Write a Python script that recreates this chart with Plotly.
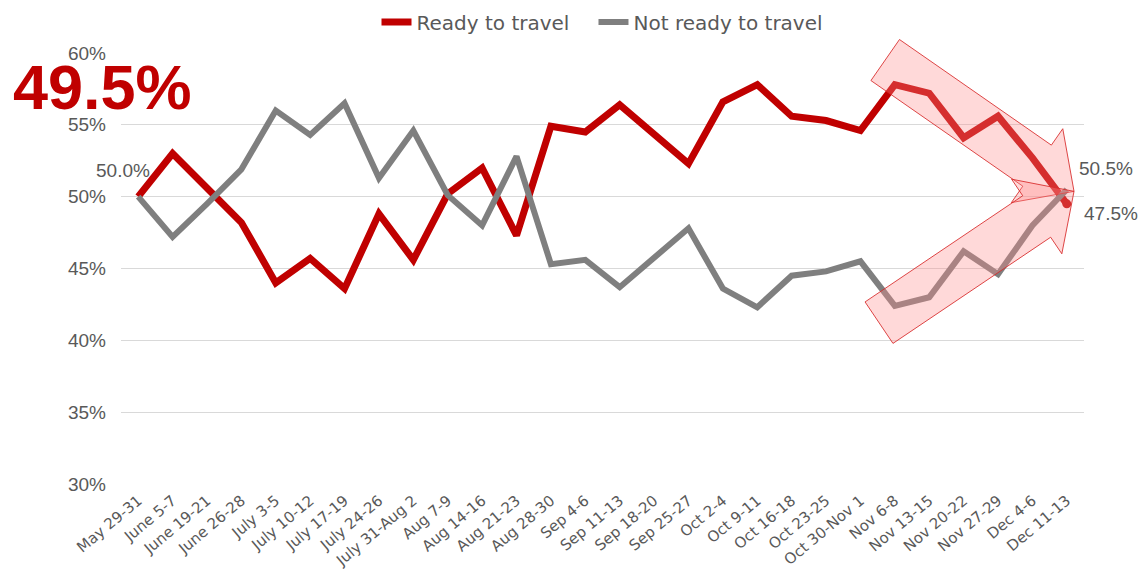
import math
import plotly.graph_objects as go

# Survey waves
weeks = ["May 29-31", "June 5-7", "June 19-21", "June 26-28", "July 3-5", "July 10-12",
         "July 17-19", "July 24-26", "July 31-Aug 2", "Aug 7-9", "Aug 14-16", "Aug 21-23",
         "Aug 28-30", "Sep 4-6", "Sep 11-13", "Sep 18-20", "Sep 25-27", "Oct 2-4",
         "Oct 9-11", "Oct 16-18", "Oct 23-25", "Oct 30-Nov 1", "Nov 6-8", "Nov 13-15",
         "Nov 20-22", "Nov 27-29", "Dec 4-6", "Dec 11-13"]

# Share of respondents (%)
ready = [50.0, 53.0, 50.6, 48.2, 44.0, 45.7, 43.6, 48.8, 45.6, 50.2, 52.0, 47.3,
         54.9, 54.5, 56.4, 54.3, 52.3, 56.6, 57.8, 55.6, 55.3, 54.6, 57.8, 57.2,
         54.1, 55.6, 52.7, 49.5]
not_ready = [50.0, 47.2, 49.5, 51.9, 56.0, 54.3, 56.5, 51.3, 54.6, 50.1, 48.0, 52.8,
             45.3, 45.6, 43.7, 45.8, 47.8, 43.6, 42.3, 44.5, 44.8, 45.5, 42.4, 43.0,
             46.2, 44.6, 48.0, 50.5]

y_ticks = [30, 35, 40, 45, 50, 55, 60]
headline = "49.5%"
end_callout = "47.5%"

RED = "#C00000"
GRAY = "#7F7F7F"
TXT = "#595959"

W, H = 1143, 576
M = dict(l=121, r=59, t=53, b=92, autoexpand=False)
x_range = [-0.5, 27.5]
y_range = [30, 60]
plot_w = W - M["l"] - M["r"]
plot_h = H - M["t"] - M["b"]
# pixels per data unit, used to keep the callout arrows' proportions
sx = plot_w / (x_range[1] - x_range[0])
sy = plot_h / (y_range[1] - y_range[0])

NBSP = "\u00a0"
fig = go.Figure()
fig.add_trace(go.Scatter(x=weeks, y=ready, mode="lines", name="Ready to travel" + NBSP * 3,
                         line=dict(color=RED, width=7)))
fig.add_trace(go.Scatter(x=weeks, y=not_ready, mode="lines", name="Not ready to travel",
                         line=dict(color=GRAY, width=6)))


def block_arrow(tail, tip, half=25, head_half=45, head_len=45):
    """Closed SVG path (paper coords) of a block arrow, tail centre and tip in data units."""
    tx, ty = tail[0] * sx, tail[1] * sy
    px, py = tip[0] * sx, tip[1] * sy
    dx, dy = px - tx, py - ty
    L = math.hypot(dx, dy)
    ux, uy = dx / L, dy / L
    nx, ny = -uy, ux
    bx, by = px - ux * head_len, py - uy * head_len
    pts = [
        (tx + nx * half, ty + ny * half),
        (bx + nx * half, by + ny * half),
        (bx + nx * head_half, by + ny * head_half),
        (px, py),
        (bx - nx * head_half, by - ny * head_half),
        (bx - nx * half, by - ny * half),
        (tx - nx * half, ty - ny * half),
    ]

    def to_paper(x, y):
        return ((x / sx - x_range[0]) / (x_range[1] - x_range[0]),
                (y / sy - y_range[0]) / (y_range[1] - y_range[0]))

    return "M " + " L ".join("%.5f,%.5f" % to_paper(x, y) for x, y in pts) + " Z"


arrow_style = dict(type="path", xref="paper", yref="paper", layer="above",
                   fillcolor="rgba(255,140,140,0.33)",
                   line=dict(color="rgba(215,40,40,0.85)", width=1))
fig.add_shape(path=block_arrow((21.72, 59.51), (27.21, 50.37)), **arrow_style)
fig.add_shape(path=block_arrow((21.54, 41.23), (27.21, 50.37)), **arrow_style)

# small dot at the end of the ready series
fig.add_trace(go.Scatter(x=[weeks[-1]], y=[ready[-1]], mode="markers", showlegend=False,
                         marker=dict(color=RED, size=9), hoverinfo="skip"))

# data labels
label_font = dict(family="Liberation Sans", size=19, color=TXT)
fig.add_annotation(x=0, y=ready[0], text=f"{ready[0]:.1f}%", showarrow=False,
                   xshift=-15, yshift=26, font=label_font)
fig.add_annotation(x=len(weeks) - 1, y=not_ready[-1], text=f"{not_ready[-1]:.1f}%",
                   showarrow=False, xanchor="left", xshift=10, yshift=21, font=label_font)
fig.add_annotation(x=len(weeks) - 1, y=ready[-1], text=end_callout, showarrow=False,
                   xanchor="left", xshift=15, yshift=-10, font=label_font)

# headline figure
fig.add_annotation(xref="paper", yref="paper", x=-0.0197, y=0.921, text=f"<b>{headline}</b>",
                   showarrow=False, xanchor="center", yanchor="middle",
                   font=dict(family="Liberation Sans", size=63, color=RED))

fig.update_layout(
    width=W, height=H, margin=M,
    paper_bgcolor="white", plot_bgcolor="white",
    showlegend=True,
    legend=dict(orientation="h", x=0.5, xanchor="center", y=1.072, yanchor="middle",
                font=dict(family="DejaVu Sans", size=20, color=TXT),
                itemwidth=30, tracegroupgap=0, bgcolor="rgba(0,0,0,0)"),
    hovermode=False,
)
fig.update_xaxes(type="category", range=x_range, showgrid=False, zeroline=False,
                 showline=False, ticks="", tickangle=-40, ticklabelstandoff=4,
                 tickfont=dict(family="DejaVu Sans", size=15, color=TXT))
fig.update_yaxes(range=y_range, tickvals=y_ticks, ticktext=[f"{v}%" for v in y_ticks],
                 showgrid=True, gridcolor="#D9D9D9", gridwidth=1, zeroline=False,
                 showline=False, ticks="", ticklabelstandoff=14,
                 tickfont=dict(family="Liberation Sans", size=19, color=TXT))

fig.write_html("out.html")
